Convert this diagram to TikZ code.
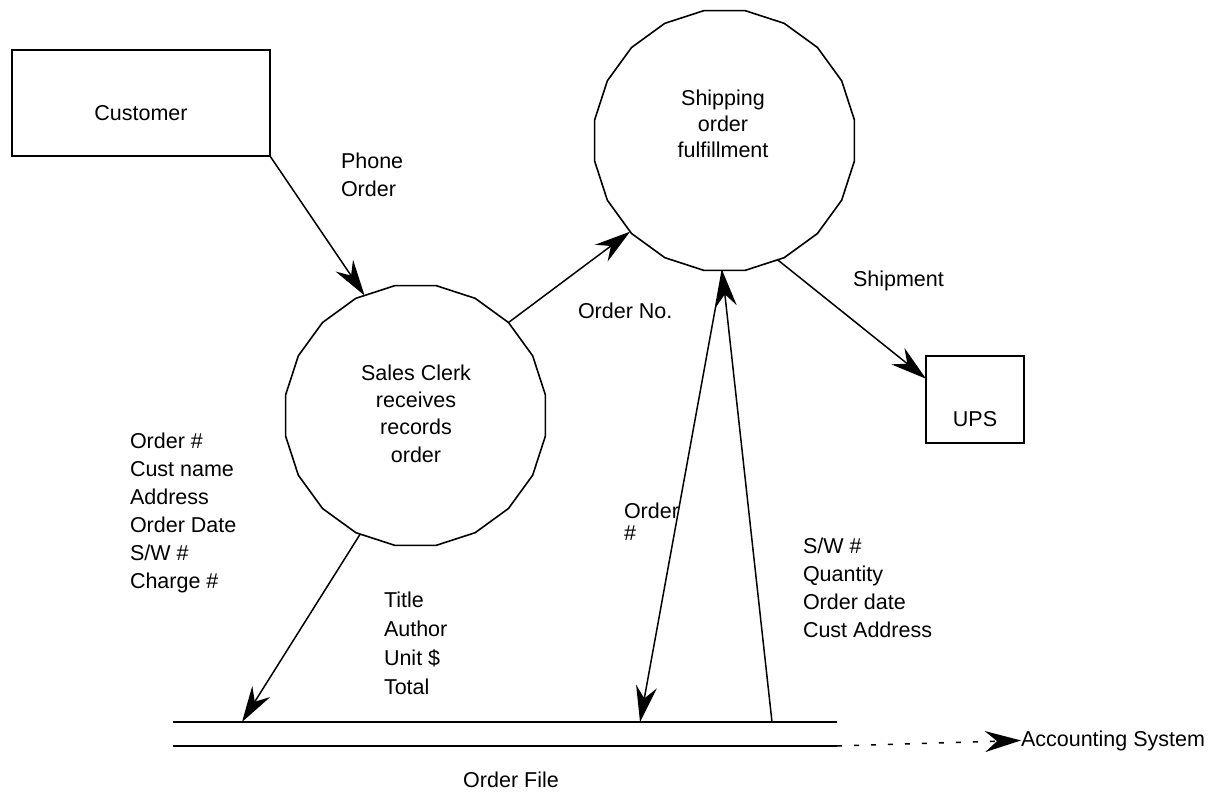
\documentclass[tikz,border=0pt]{standalone}
\usepackage{fontspec}
\setmainfont{Liberation Sans}
\usetikzlibrary{arrows.meta,shapes.geometric}

\begin{document}
\begin{tikzpicture}[x=1pt,y=-1pt,
  every node/.style={inner sep=0pt, outer sep=0pt},
  lbl/.style={font=\fontsize{21.5}{28}\selectfont},
  entity/.style={draw, line width=2pt, lbl},
  process/.style={draw, regular polygon, regular polygon sides=20,
    minimum size=263pt, line width=1.6pt},
  flow/.style={line width=1.5pt, -{Stealth[length=36pt,width=21pt,inset=12pt]}},
  storeline/.style={line width=2pt},
]
\useasboundingbox (0,0) rectangle (1217,792);

% external entities
\node[entity, minimum width=258pt, minimum height=106pt,
      text height=34pt, text depth=0pt] (customer) at (141,103) {Customer};
\node[entity, minimum width=98pt, minimum height=87pt,
      text height=53pt, text depth=0pt] (ups) at (975,399.5) {UPS};

% processes (multi-line labels are placed by their last baseline)
\node[process] (sales) at (415.5,415.5) {};
\node[lbl, align=center, anchor=base, font=\fontsize{21.5}{27.3}\selectfont]
  (salestext) at (416,462) {Sales Clerk\\receives\\records\\order};
\node[process] (shipping) at (724.5,140.5) {};
\node[lbl, align=center, anchor=base, font=\fontsize{21.5}{26}\selectfont]
  (shippingtext) at (723,157) {Shipping\\order\\fulfillment};

% data store
\node[minimum width=664pt, minimum height=24pt] (file) at (505,734) {};
\draw[storeline] (file.north west) -- (file.north east);
\draw[storeline] (file.south west) -- (file.south east);
\node[lbl, anchor=base] (filetext) at (511,787) {Order File};
\coordinate (fa) at (242,722);
\coordinate (fb) at (640,722);
\coordinate (fc) at (772,722);

\node[lbl, anchor=base west] (acct) at (1021,746) {Accounting System};

% data flows
\draw[flow] (customer.south east) -- (sales.113.8);
\draw[flow] (sales.45.3) -- (shipping.224.4);
\draw[flow] (shipping.294.1) -- (ups.157);
\draw[flow] (sales.245.1) -- (fa);
\draw[flow] (shipping.269) -- (fb);
\draw[flow] (fc) -- (shipping.269);
\draw[flow, dash pattern=on 5pt off 12pt] (file.south east) -- (acct.west);

% flow labels
\node[lbl, align=left, anchor=base west] (phone) at (341,196) {Phone\\Order};
\node[lbl, anchor=base west] (orderno) at (578,318) {Order No.};
\node[lbl, anchor=base west] (shipment) at (853,286) {Shipment};
\node[lbl, align=left, anchor=base west] (orderdata) at (130,588)
  {Order \#\\Cust name\\Address\\Order Date\\S/W \#\\Charge \#};
\node[lbl, align=left, anchor=base west, font=\fontsize{21.5}{28.7}\selectfont]
  (itemdata) at (384,694) {Title\\Author\\Unit \$\\Total};
\node[lbl, align=left, anchor=base west, font=\fontsize{21.5}{22}\selectfont]
  (ordernum) at (624,540) {Order\\\#};
\node[lbl, align=left, anchor=base west, font=\fontsize{21.5}{27.7}\selectfont]
  (shipdata) at (803,637) {S/W \#\\Quantity\\Order date\\Cust Address};
\end{tikzpicture}
\end{document}
